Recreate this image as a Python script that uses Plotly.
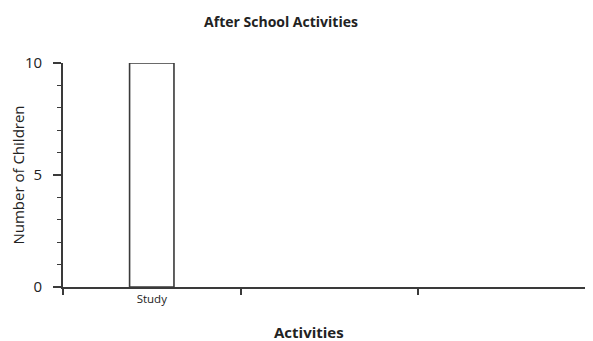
import plotly.graph_objects as go

categories = ["Study", "", ""]
values = [10, None, None]
y_ticks = [0, 5, 10]

x_pos = [i + 0.5 for i in range(len(categories))]
FONT = "Open Sans"
LINE = "#3a3a3a"
OFF = 8  # page body margin offset

W, H = 593 - OFF, 341 - OFF
L, T, B = 63 - OFF, 63 - OFF, 54
PW, PH = W - L, H - T - B

fig = go.Figure(go.Bar(
    x=x_pos, y=values, width=0.25,
    marker=dict(color="white", line=dict(color=LINE, width=1.6)),
))

fig.update_layout(
    width=W, height=H,
    margin=dict(l=L, r=0, t=T, b=B, pad=0),
    paper_bgcolor="white", plot_bgcolor="white",
    showlegend=False,
    font=dict(family=FONT, color="#222"),
    title=dict(text="<b>After School Activities</b>", x=(281 - OFF) / W, xanchor="center",
               y=1 - (22 - OFF) / H, yanchor="middle", font=dict(size=14, family=FONT, color="#222")),
    xaxis=dict(
        range=[0, 2.985], showline=True, linecolor=LINE, linewidth=1.6,
        showgrid=False, zeroline=False,
        tickvals=x_pos, ticktext=categories, ticks="",
        tickfont=dict(size=11.5, color="#222"),
        minor=dict(ticks="outside", tick0=0, dtick=1, ticklen=6, tickcolor=LINE, tickwidth=1.6),
    ),
    yaxis=dict(
        range=[0, 10], showline=True, linecolor=LINE, linewidth=1.6,
        showgrid=False, zeroline=False,
        tickvals=y_ticks, ticks="outside", ticklen=8, tickcolor=LINE, tickwidth=1.6,
        tickfont=dict(size=15, color="#222"), ticklabelstandoff=8,
        minor=dict(ticks="outside", dtick=1, ticklen=4, tickcolor=LINE, tickwidth=1.2),
        title=dict(text="Number of Children", font=dict(size=15, color="#222"), standoff=6),
    ),
    annotations=[dict(
        text="<b>Activities</b>", xref="paper", yref="paper",
        x=(309 - 63) / PW, y=-(332 - 287) / PH,
        xanchor="center", yanchor="middle", showarrow=False,
        font=dict(size=15, color="#222", family=FONT),
    )],
)

fig.write_html("out.html", config={"displayModeBar": False})
